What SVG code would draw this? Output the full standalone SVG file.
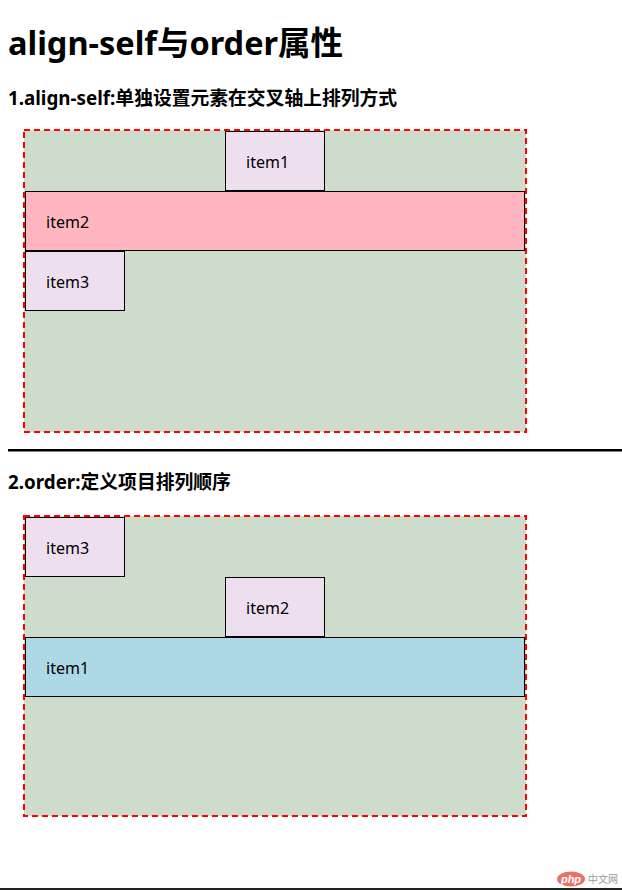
<svg xmlns="http://www.w3.org/2000/svg" width="622" height="890" viewBox="0 0 622 890">
<style>
.h1{font-family:"Noto Sans","Noto Sans CJK SC",sans-serif;font-weight:bold;font-size:32.5px;fill:#000}
.h3{font-family:"Noto Sans","Noto Sans CJK SC",sans-serif;font-weight:bold;font-size:18.8px;fill:#000}
.box{fill:#cddccb;stroke:#ff0000;stroke-width:2;stroke-dasharray:6,4}
.item{fill:#eedfee;stroke:#000;stroke-width:1}
.pink{fill:#ffb6c1}
.blue{fill:#add8e6}
.lbl{font-family:"Noto Sans","Noto Sans CJK SC",sans-serif;font-size:16px;fill:#000}
</style>
<rect width="622" height="890" fill="#fff"/>
<text class="h1" x="8" y="55">align-self与order属性</text>
<text class="h3" x="8" y="105">1.align-self:单独设置元素在交叉轴上排列方式</text>
<g id="container1">
<rect class="box" x="24" y="130" width="502" height="302"/>
</g>
<g id="c1-item1"><rect class="item" x="225.5" y="131.5" width="99" height="59"/><text class="lbl" x="246" y="168">item1</text></g>
<g id="c1-item2"><rect class="item pink" x="25.5" y="191.5" width="499" height="59"/><text class="lbl" x="46" y="228">item2</text></g>
<g id="c1-item3"><rect class="item" x="25.5" y="251.5" width="99" height="59"/><text class="lbl" x="46" y="288">item3</text></g>
<rect x="8" y="449" width="614" height="2.5" fill="#000"/>
<text class="h3" x="8" y="489">2.order:定义项目排列顺序</text>
<g id="container2">
<rect class="box" x="24" y="516" width="502" height="300"/>
</g>
<g id="c2-item3"><rect class="item" x="25.5" y="517.5" width="99" height="59"/><text class="lbl" x="46" y="554">item3</text></g>
<g id="c2-item2"><rect class="item" x="225.5" y="577.5" width="99" height="59"/><text class="lbl" x="246" y="614">item2</text></g>
<g id="c2-item1"><rect class="item blue" x="25.5" y="637.5" width="499" height="59"/><text class="lbl" x="46" y="674">item1</text></g>
<g id="watermark">
<ellipse cx="571" cy="879" rx="14" ry="7.5" fill="#e8706a"/>
<text x="571" y="883" text-anchor="middle" font-family="'Liberation Sans',sans-serif" font-style="italic" font-weight="bold" font-size="11px" fill="#fff">php</text>
<text x="588" y="883" font-family="'Noto Sans CJK SC',sans-serif" font-size="10px" fill="#999">中文网</text>
</g>
<rect x="0" y="888" width="622" height="2" fill="#222"/>
</svg>
